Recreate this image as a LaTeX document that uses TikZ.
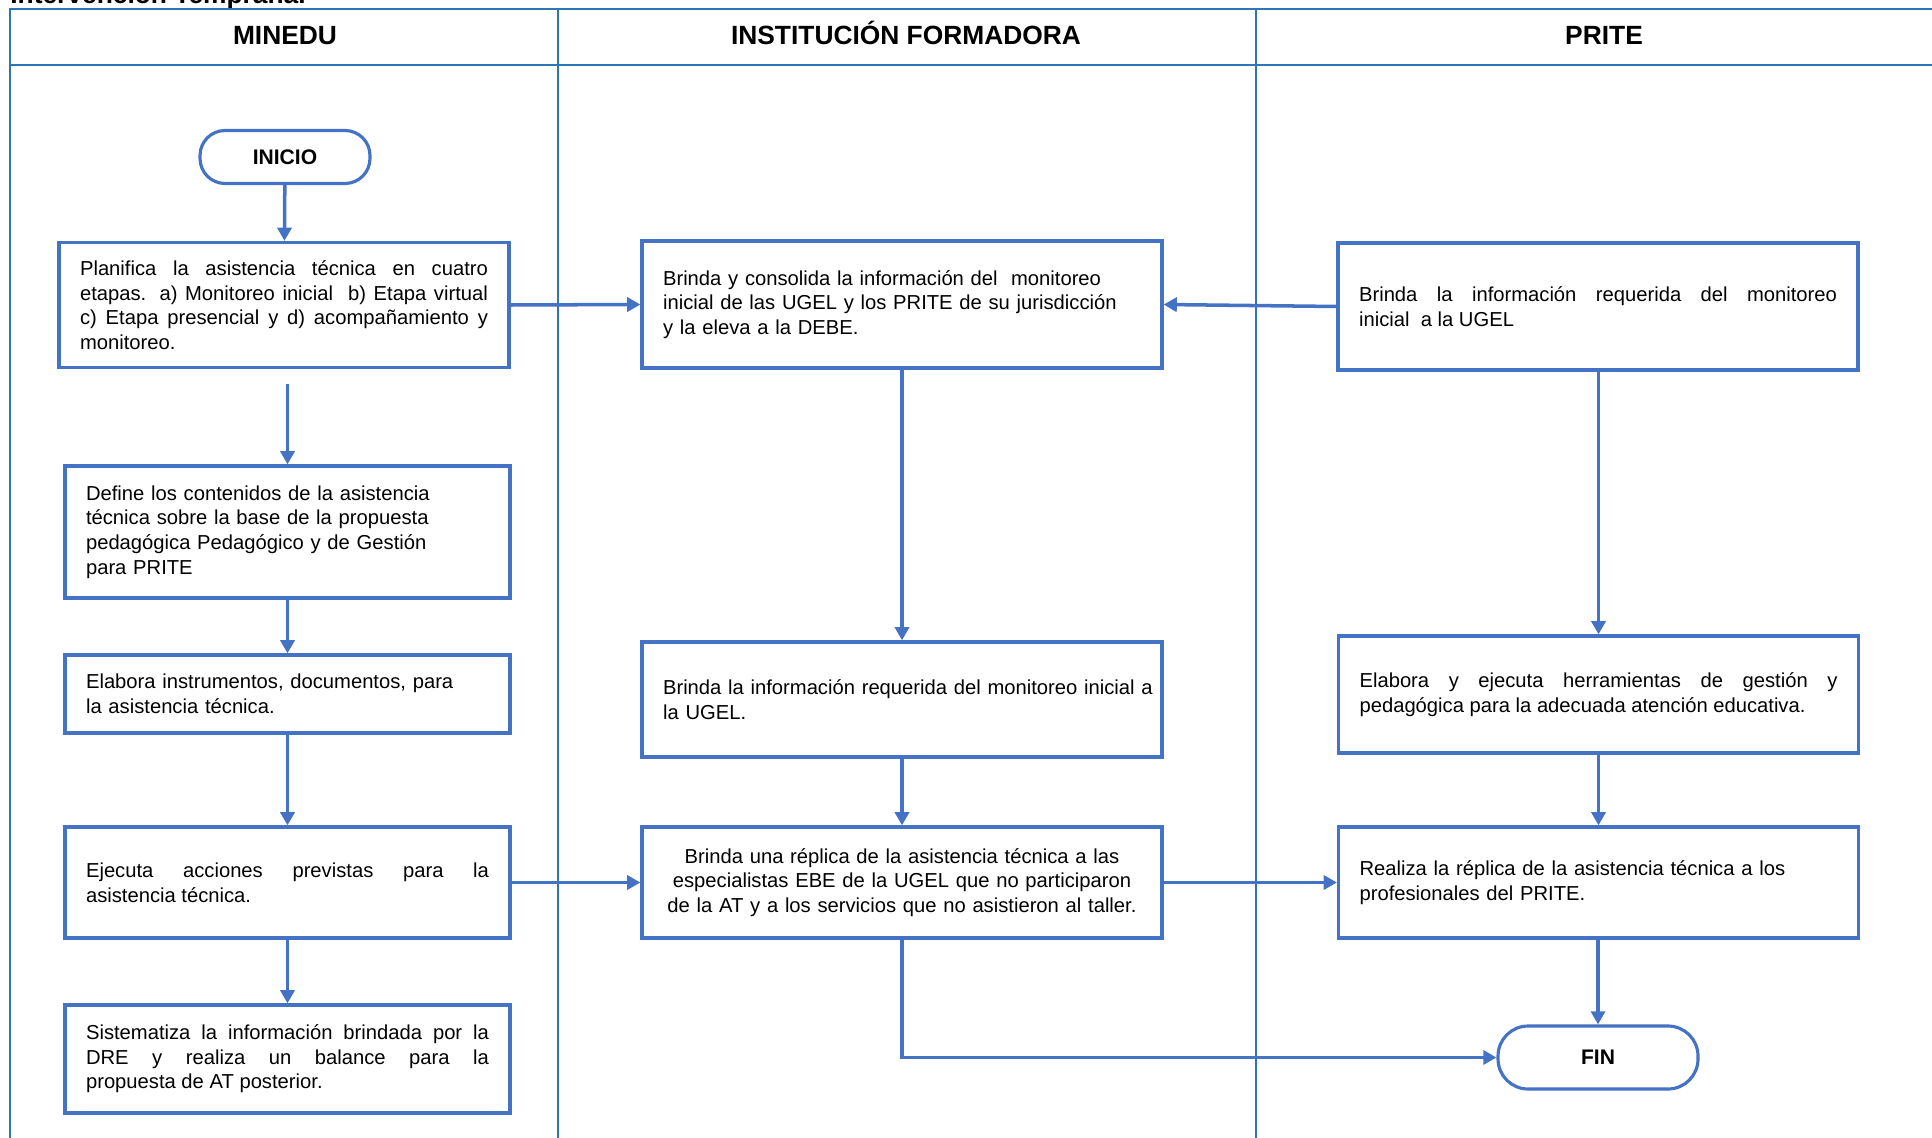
\documentclass[tikz,border=0pt]{standalone}
\usepackage{fontspec}
\setmainfont{Liberation Sans}
\usetikzlibrary{arrows.meta}
\definecolor{boxblue}{RGB}{68,114,196}
\definecolor{laneblue}{RGB}{46,117,182}
\tolerance=10000
\hbadness=10000
\hfuzz=20pt
\begin{document}
\begin{tikzpicture}[x=0.02cm, y=-0.02cm, font=\fontsize{11.5}{14}\selectfont, line join=miter, >={Triangle[length=7.5pt,width=8pt]},
		caja/.style 2 args={draw=boxblue, line width=1.9pt, text width=#1, minimum height=#2, inner xsep=0.42cm},
		terminal/.style={draw=boxblue, line width=1.8pt, rounded corners=0.5cm, font=\bfseries\fontsize{12}{14}\selectfont},
		flecha/.style={->, draw=boxblue, line width=2pt},
		carril/.style={draw=laneblue, line width=1.1pt}]
			\useasboundingbox (0,0) rectangle (1932,1138);
			\clip (0,0) rectangle (1932,1138);
			\node[anchor=base west, inner sep=0pt, font=\bfseries\fontsize{15}{18}\selectfont] (titulo) at (10,4) {Intervención Temprana.};
			\draw[carril] (10,1138) -- (10,9) -- (1932,9);
			\draw[carril] (10,65) -- (1932,65);
			\foreach \x in {558,1256} \draw[carril] (\x,9) -- (\x,1138);
			\foreach \x/\t/\n in {285/MINEDU/minedu,906/INSTITUCIÓN FORMADORA/formadora,1604/PRITE/prite} \node[anchor=base, inner sep=0pt, font=\bfseries\fontsize{15}{18}\selectfont] (\n) at (\x,45) {\t};
			\node[terminal, minimum width=3.4cm, minimum height=1.06cm] (inicio) at (285,157) {INICIO};
			\node[caja={8.16cm}{2.5cm}, align=justify] (b1) at (284,305) {Planifica la asistencia técnica en cuatro\linebreak etapas. a) Monitoreo inicial\ \ b) Etapa virtual\linebreak c) Etapa presencial y d) acompañamiento y\linebreak monitoreo.};
			\node[caja={8.06cm}{2.64cm}, align=left] (b2) at (287.5,532) {Define los contenidos de la asistencia\\ técnica sobre la base de la propuesta\\ pedagógica Pedagógico y de Gestión\\ para PRITE};
			\node[caja={8.06cm}{1.56cm}, align=left] (b3) at (287.5,694) {Elabora instrumentos, documentos, para\\ la asistencia técnica.};
			\node[caja={8.06cm}{2.22cm}, align=justify] (b4) at (287.5,882.5) {Ejecuta acciones previstas para la\linebreak asistencia técnica.};
			\node[caja={8.06cm}{2.16cm}, align=justify] (b5) at (287.5,1059) {Sistematiza la información brindada por la\linebreak DRE y realiza un balance para la\linebreak propuesta de AT posterior.};
			\node[caja={9.56cm}{2.54cm}, align=left] (m1) at (902,304.5) {Brinda y consolida la información del\ \ monitoreo\\ inicial de las UGEL y los PRITE de su jurisdicción\\ y la eleva a la DEBE.};
			\node[caja={9.56cm}{2.3cm}, align=left] (m2) at (902,699.5) {\mbox{Brinda la información requerida del monitoreo inicial a}\\ la UGEL.};
			\node[caja={9.56cm}{2.22cm}, align=center] (m3) at (902,882.5) {Brinda una réplica de la asistencia técnica a las\\ especialistas EBE de la UGEL que no participaron\\ de la AT y a los servicios que no asistieron al taller.};
			\node[caja={9.56cm}{2.54cm}, align=justify] (r1) at (1598,306.5) {Brinda la información requerida del monitoreo\linebreak inicial\ \ a la UGEL};
			\node[caja={9.56cm}{2.34cm}, align=justify] (r2) at (1598.5,694.5) {Elabora y ejecuta herramientas de gestión y\linebreak pedagógica para la adecuada atención educativa.};
			\node[caja={9.56cm}{2.22cm}, align=left] (r3) at (1598.5,882.5) {Realiza la réplica de la asistencia técnica a los\\ profesionales del PRITE.};
			\node[terminal, minimum width=4cm, minimum height=1.26cm, rounded corners=0.6cm] (fin) at (1598,1057.5) {FIN};
			\draw[flecha] (inicio) -- (b1);
			\draw[flecha, shorten <=0.3cm] (b1.south -| b2.north) -- (b2.north);
			\draw[flecha] (b2) -- (b3);
			\draw[flecha] (b3) -- (b4);
			\draw[flecha] (b4) -- (b5);
			\draw[flecha] (b1.east) -- (m1.west);
			\draw[flecha] (r1.west) -- (m1.east);
			\draw[flecha] (m1) -- (m2);
			\draw[flecha] (m2) -- (m3);
			\draw[flecha] (b4.east) -- (m3.west);
			\draw[flecha] (m3.east) -- (r3.west);
			\draw[flecha] (m3.south) |- (fin.west);
			\draw[flecha] (r1.south -| r2.north) -- (r2.north);
			\draw[flecha] (r2) -- (r3);
			\draw[flecha] (r3.south -| fin.north) -- (fin.north);
		\end{tikzpicture}
\end{document}
